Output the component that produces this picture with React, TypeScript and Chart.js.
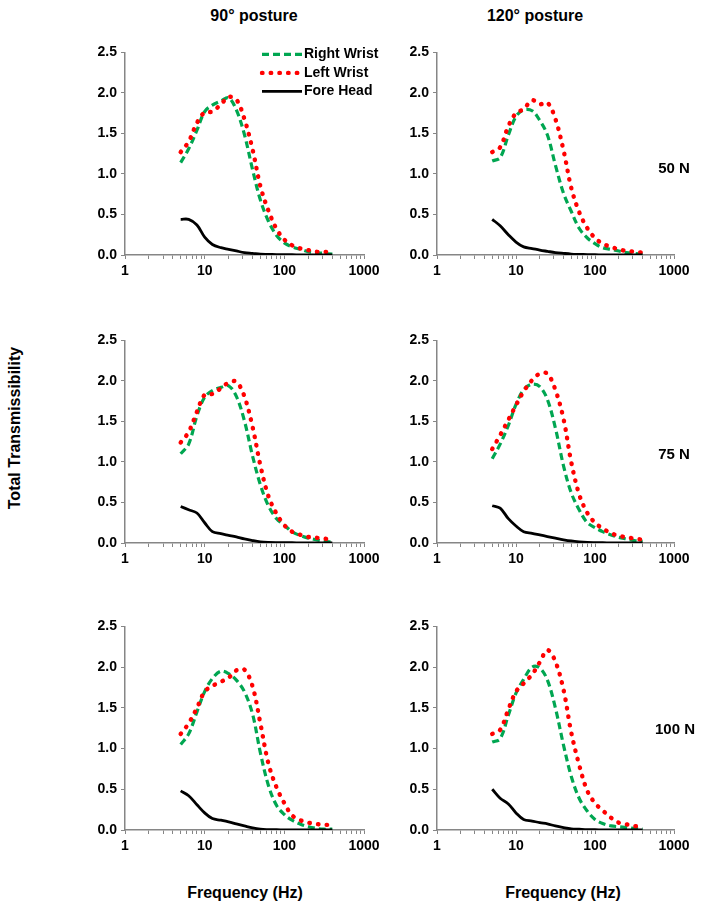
import React, { useEffect, useRef } from 'react';
import Chart from 'chart.js/auto';

// one-third octave band centre frequencies (Hz)
const freqHz = [5, 6.3, 8, 10, 12.5, 16, 20, 25, 31.5, 40, 50, 63, 80, 100, 125, 160, 200, 250, 315, 400];

const seriesNames = ['Right Wrist', 'Left Wrist', 'Fore Head'];
const postureTitles = ['90° posture', '120° posture'];
const forceLabels = ['50 N', '75 N', '100 N'];
const yTicks = [0, 0.5, 1, 1.5, 2, 2.5];
const xDecades = [1, 10, 100, 1000];
const xMinorSteps = [1, 2, 3, 4, 5, 6, 7, 8, 9];

// 90° posture, 50 N
const right90_50 = [1.14, 1.31, 1.54, 1.77, 1.85, 1.9, 1.94, 1.79, 1.49, 1.05, 0.68, 0.42, 0.24, 0.15, 0.1, 0.07, 0.04, 0.03, 0.02, 0.01];
const left90_50 = [1.27, 1.4, 1.63, 1.76, 1.77, 1.86, 1.95, 1.92, 1.68, 1.3, 0.85, 0.55, 0.32, 0.19, 0.12, 0.08, 0.06, 0.04, 0.04, 0.03];
const head90_50 = [0.44, 0.44, 0.37, 0.22, 0.13, 0.09, 0.07, 0.05, 0.03, 0.02, 0.01, 0.008, 0.005, 0.004, 0.003, 0.002, 0.002, 0.001, 0.001, 0.001];

// 120° posture, 50 N
const right120_50 = [1.16, 1.2, 1.48, 1.71, 1.79, 1.78, 1.66, 1.48, 1.11, 0.76, 0.54, 0.33, 0.21, 0.14, 0.09, 0.07, 0.05, 0.03, 0.02, 0.01];
const left120_50 = [1.27, 1.33, 1.59, 1.75, 1.8, 1.91, 1.86, 1.88, 1.68, 1.29, 0.83, 0.53, 0.33, 0.21, 0.14, 0.1, 0.07, 0.05, 0.04, 0.03];
const head120_50 = [0.44, 0.36, 0.25, 0.16, 0.1, 0.08, 0.06, 0.045, 0.03, 0.02, 0.012, 0.008, 0.005, 0.003, 0.002, 0.002, 0.001, 0.001, 0.001, 0.001];

// 90° posture, 75 N
const right90_75 = [1.1, 1.22, 1.57, 1.8, 1.88, 1.92, 1.94, 1.81, 1.51, 1.07, 0.72, 0.46, 0.3, 0.22, 0.14, 0.09, 0.06, 0.04, 0.02, 0.01];
const left90_75 = [1.24, 1.37, 1.62, 1.83, 1.84, 1.91, 1.98, 1.99, 1.81, 1.43, 0.96, 0.58, 0.36, 0.22, 0.14, 0.1, 0.075, 0.065, 0.055, 0.04];
const head90_75 = [0.45, 0.41, 0.37, 0.25, 0.14, 0.115, 0.095, 0.075, 0.05, 0.03, 0.015, 0.008, 0.005, 0.004, 0.003, 0.002, 0.002, 0.001, 0.001, 0.001];

// 120° posture, 75 N
const right120_75 = [1.04, 1.22, 1.45, 1.71, 1.89, 1.96, 1.93, 1.77, 1.42, 0.95, 0.62, 0.41, 0.25, 0.19, 0.14, 0.1, 0.07, 0.05, 0.03, 0.02];
const left120_75 = [1.16, 1.33, 1.52, 1.7, 1.87, 2.01, 2.09, 2.09, 1.89, 1.53, 1.0, 0.6, 0.37, 0.25, 0.18, 0.12, 0.09, 0.07, 0.055, 0.04];
const head120_75 = [0.46, 0.43, 0.3, 0.21, 0.14, 0.12, 0.1, 0.08, 0.06, 0.04, 0.025, 0.015, 0.008, 0.005, 0.003, 0.002, 0.002, 0.001, 0.001, 0.001];

// 90° posture, 100 N
const right90_100 = [1.05, 1.18, 1.45, 1.7, 1.86, 1.95, 1.92, 1.84, 1.7, 1.42, 0.95, 0.55, 0.3, 0.19, 0.12, 0.07, 0.04, 0.02, 0.01, 0.01];
const left90_100 = [1.18, 1.31, 1.5, 1.7, 1.77, 1.82, 1.87, 1.96, 1.97, 1.76, 1.31, 0.82, 0.52, 0.33, 0.18, 0.12, 0.09, 0.075, 0.065, 0.06];
const head90_100 = [0.48, 0.42, 0.31, 0.21, 0.14, 0.12, 0.1, 0.075, 0.05, 0.025, 0.01, 0.005, 0.003, 0.002, 0.002, 0.001, 0.001, 0.001, 0.001, 0.001];

// 120° posture, 100 N
const right120_100 = [1.08, 1.12, 1.41, 1.68, 1.85, 2.0, 1.99, 1.84, 1.5, 1.04, 0.66, 0.39, 0.23, 0.13, 0.08, 0.05, 0.04, 0.03, 0.02, 0.01];
const left120_100 = [1.18, 1.23, 1.48, 1.7, 1.8, 1.91, 2.06, 2.21, 2.07, 1.72, 1.2, 0.8, 0.48, 0.33, 0.24, 0.15, 0.09, 0.07, 0.05, 0.03];
const head120_100 = [0.5, 0.39, 0.32, 0.21, 0.13, 0.11, 0.09, 0.075, 0.05, 0.03, 0.015, 0.01, 0.005, 0.003, 0.002, 0.002, 0.001, 0.001, 0.001, 0.001];

// rows = force, columns = posture
const panelData = [
  [[right90_50, left90_50, head90_50], [right120_50, left120_50, head120_50]],
  [[right90_75, left90_75, head90_75], [right120_75, left120_75, head120_75]],
  [[right90_100, left90_100, head90_100], [right120_100, left120_100, head120_100]],
];

const xTickValues = xDecades.flatMap((d, i) =>
  i === xDecades.length - 1 ? [d] : xMinorSteps.map((m) => m * d)
);

// plot area edges on the page
const colLeft = [125, 437];
const colRight = [364, 674];
const rowTop = [50, 338, 624];
const rowBottom = [255, 543, 830];

const FONT = '"Liberation Sans", Arial, Helvetica, sans-serif';
const AXIS_GREY = '#868686';

const lineStyles: any[] = [
  { borderColor: '#00a651', borderDash: [7, 4], borderWidth: 3.2, borderCapStyle: 'butt' },
  { borderColor: '#ff0000', borderDash: [0.5, 8.2], borderWidth: 4.4, borderCapStyle: 'round' },
  { borderColor: '#000000', borderDash: [], borderWidth: 2.8, borderCapStyle: 'butt' },
];

const legendPlugin = {
  id: 'insideLegend',
  afterDraw(chart: any) {
    const { ctx, chartArea } = chart;
    ctx.save();
    seriesNames.forEach((name, i) => {
      const y = chartArea.top + 2 + i * 18.5;
      const s = lineStyles[i];
      ctx.beginPath();
      ctx.strokeStyle = s.borderColor;
      ctx.lineWidth = s.borderWidth;
      ctx.lineCap = s.borderCapStyle;
      ctx.setLineDash(s.borderDash);
      ctx.moveTo(chartArea.left + 137, y);
      ctx.lineTo(chartArea.left + 177, y);
      ctx.stroke();
      ctx.setLineDash([]);
      ctx.fillStyle = '#000';
      ctx.font = `bold 14px ${FONT}`;
      ctx.textBaseline = 'middle';
      ctx.textAlign = 'left';
      ctx.fillText(name, chartArea.left + 179, y);
    });
    ctx.restore();
  },
};

interface PanelProps {
  row: number;
  col: number;
  showLegend: boolean;
}

const Panel: React.FC<PanelProps> = ({ row, col, showLegend }) => {
  const canvasRef = useRef<HTMLCanvasElement>(null);
  const chartRef = useRef<Chart | null>(null);

  const plotW = colRight[col] - colLeft[col];
  const plotH = rowBottom[row] - rowTop[row];
  const width = plotW + 70;
  const height = plotH + 40;

  useEffect(() => {
    if (!canvasRef.current) return;
    if (chartRef.current) chartRef.current.destroy();

    const values = panelData[row][col];
    const tickFont = { family: FONT, size: 14, weight: 'bold' as const };

    chartRef.current = new Chart(canvasRef.current, {
      type: 'line',
      data: {
        datasets: seriesNames.map((name, i) => ({
          label: name,
          data: freqHz.map((f, k) => ({ x: f, y: values[i][k] })),
          ...lineStyles[i],
          pointRadius: 0,
          tension: 0.35,
          fill: false,
          order: seriesNames.length - i,
        })),
      },
      options: {
        animation: false,
        responsive: false,
        maintainAspectRatio: false,
        events: [],
        layout: { padding: { top: 10, right: 20, left: 0, bottom: 0 } },
        plugins: {
          legend: { display: false },
          tooltip: { enabled: false },
        },
        scales: {
          x: {
            type: 'logarithmic',
            min: 1,
            max: 1000,
            afterBuildTicks: (s: any) => {
              s.ticks = xTickValues.map((v) => ({ value: v, major: xDecades.includes(v) }));
            },
            afterFit: (s: any) => {
              s.height = 30;
            },
            ticks: {
              autoSkip: false,
              maxRotation: 0,
              padding: 4,
              color: '#000',
              font: tickFont,
              callback: (v: any) => (xDecades.includes(Number(v)) ? String(v) : ''),
            },
            grid: { drawOnChartArea: false, drawTicks: true, tickLength: 4, color: AXIS_GREY, lineWidth: 1 },
            border: { color: AXIS_GREY, width: 1.5 },
          },
          y: {
            min: 0,
            max: 2.5,
            afterBuildTicks: (s: any) => {
              s.ticks = yTicks.map((v) => ({ value: v }));
            },
            afterFit: (s: any) => {
              s.width = 50;
            },
            ticks: {
              padding: 4,
              color: '#000',
              font: tickFont,
              callback: (v: any) => Number(v).toFixed(1),
            },
            grid: { drawOnChartArea: false, drawTicks: true, tickLength: 4, color: AXIS_GREY, lineWidth: 1 },
            border: { color: AXIS_GREY, width: 1.5 },
          },
        },
      },
      plugins: showLegend ? [legendPlugin] : [],
    });

    return () => {
      if (chartRef.current) {
        chartRef.current.destroy();
        chartRef.current = null;
      }
    };
  }, [row, col, showLegend]);

  return (
    <canvas
      ref={canvasRef}
      width={width}
      height={height}
      style={{
        position: 'absolute',
        left: colLeft[col] - 50,
        top: rowTop[row] - 10,
        width,
        height,
      }}
    />
  );
};

const labelStyle = (x: number, y: number, size: number): React.CSSProperties => ({
  position: 'absolute',
  left: x,
  top: y,
  transform: 'translate(-50%, -50%)',
  whiteSpace: 'nowrap',
  fontFamily: FONT,
  fontWeight: 'bold',
  fontSize: size,
  color: '#000',
  lineHeight: 1,
});

export default function App() {
  return (
    <div
      style={{
        position: 'absolute',
        left: 0,
        top: 0,
        width: 704,
        height: 909,
        background: '#fff',
        overflow: 'hidden',
      }}
    >
      {forceLabels.map((_, row) =>
        postureTitles.map((__, col) => (
          <Panel key={`${row}-${col}`} row={row} col={col} showLegend={row === 0 && col === 0} />
        ))
      )}

      <div style={labelStyle(254, 16, 16)}>{postureTitles[0]}</div>
      <div style={labelStyle(535, 16, 16)}>{postureTitles[1]}</div>

      <div style={labelStyle(674, 167, 15)}>{forceLabels[0]}</div>
      <div style={labelStyle(674, 453, 15)}>{forceLabels[1]}</div>
      <div style={labelStyle(675, 728, 15)}>{forceLabels[2]}</div>

      <div style={{ ...labelStyle(15, 428, 16), transform: 'translate(-50%, -50%) rotate(-90deg)' }}>
        Total Transmissibility
      </div>

      <div style={labelStyle(245, 893, 16)}>Frequency (Hz)</div>
      <div style={labelStyle(563, 893, 16)}>Frequency (Hz)</div>
    </div>
  );
}
